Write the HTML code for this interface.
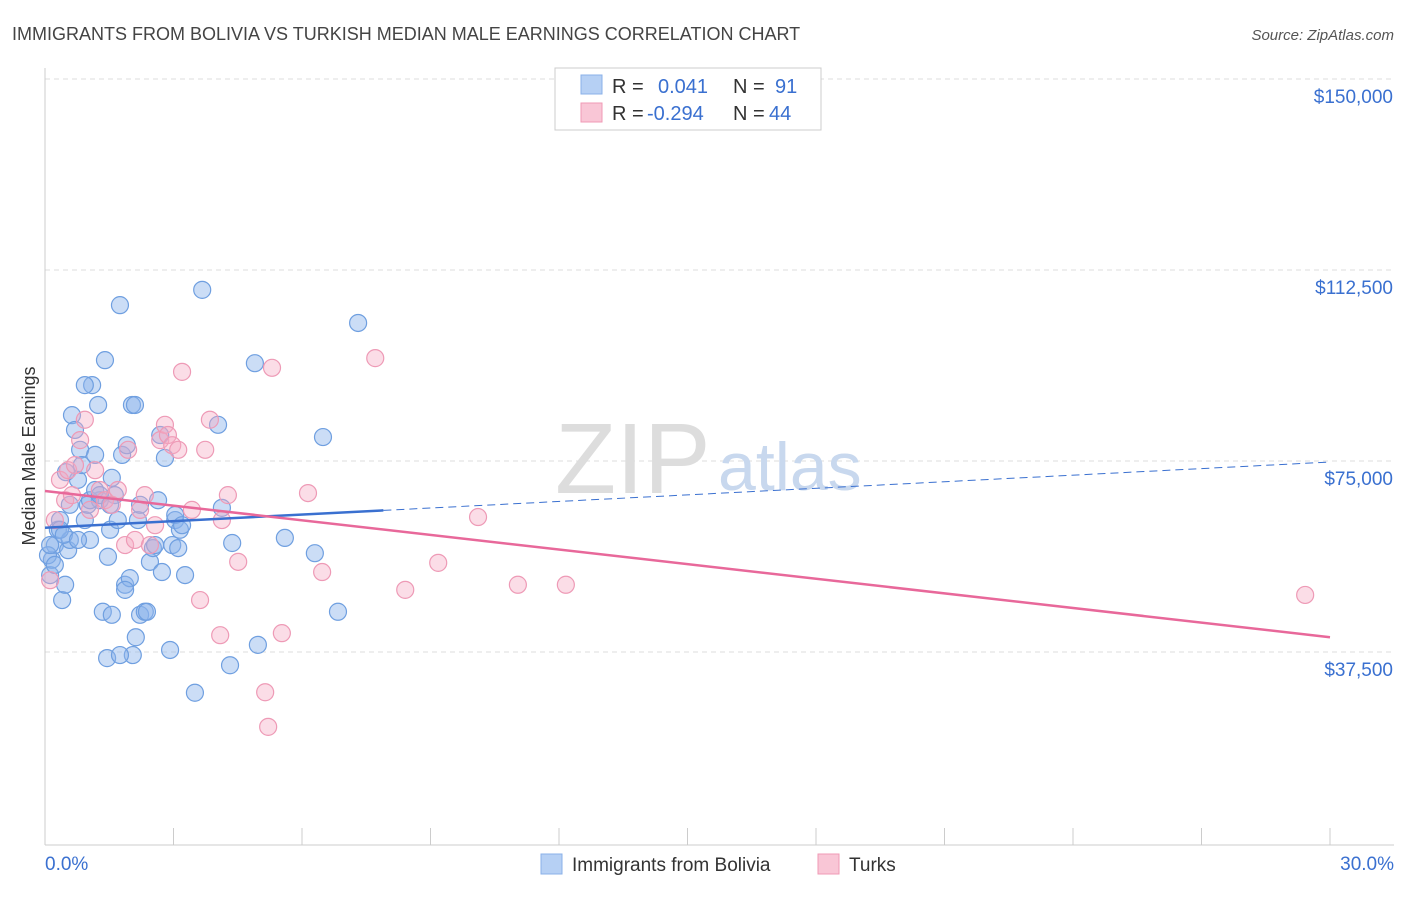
<!DOCTYPE html>
<html><head><meta charset="utf-8"><style>
body{margin:0;background:#fff;font-family:"Liberation Sans",sans-serif;}
svg text{font-family:"Liberation Sans",sans-serif;}
</style></head><body>
<svg id="chart" width="1406" height="892">
<text x="12" y="40" font-size="18" fill="#444">IMMIGRANTS FROM BOLIVIA VS TURKISH MEDIAN MALE EARNINGS CORRELATION CHART</text>
<text x="1394" y="40" font-size="15" fill="#555" font-style="italic" text-anchor="end">Source: ZipAtlas.com</text>
<text x="35" y="456" font-size="18" fill="#333" text-anchor="middle" transform="rotate(-90 35 456)">Median Male Earnings</text>
<g id="grid"></g><g id="axes"></g>
<text x="555" y="493" font-size="100" fill="#ddd" font-family="Liberation Serif">ZIP</text>
<text x="718" y="490" font-size="68" fill="#c8d8ee">atlas</text>
<g id="pts"></g><g id="lines"></g>
<g>
<rect x="555" y="68" width="266" height="62" fill="#fff" stroke="#ccc"/>
<rect x="581" y="75" width="21" height="19" fill="#b6d0f4" stroke="#8ab0e8"/>
<rect x="581" y="103" width="21" height="19" fill="#f9c6d6" stroke="#f09ab5"/>
<text x="612" y="93" font-size="20" fill="#333">R =</text><text x="658" y="93" font-size="20" fill="#3a70d0">0.041</text>
<text x="733" y="93" font-size="20" fill="#333">N =</text><text x="775" y="93" font-size="20" fill="#3a70d0">91</text>
<text x="612" y="120" font-size="20" fill="#333">R =</text><text x="647" y="120" font-size="20" fill="#3a70d0">-0.294</text>
<text x="733" y="120" font-size="20" fill="#333">N =</text><text x="769" y="120" font-size="20" fill="#3a70d0">44</text>
</g>
<g>
<rect x="541" y="854" width="21" height="20" fill="#b6d0f4" stroke="#8ab0e8"/>
<text x="572" y="871" font-size="19" fill="#333">Immigrants from Bolivia</text>
<rect x="818" y="854" width="21" height="20" fill="#f9c6d6" stroke="#f09ab5"/>
<text x="849" y="871" font-size="19" fill="#333">Turks</text>
</g>
</svg>
<script>
const xTickLabels=["0.0%","30.0%"];
const yTicks=[37500,75000,112500,150000];
const yTickLabels=["$37,500","$75,000","$112,500","$150,000"];
const blueX=[0.12,0.16,0.23,0.30,0.35,0.40,0.47,0.54,0.58,0.63,0.70,0.77,0.82,0.86,0.93,1.00,1.05,1.10,1.17,1.24,1.28,1.35,1.40,1.45,1.47,1.52,1.56,1.63,1.70,1.75,1.80,1.87,1.91,1.98,2.03,2.10,2.12,2.17,2.22,2.33,2.38,2.45,2.52,2.57,2.64,2.69,2.73,2.80,2.92,2.97,3.04,3.11,3.15,3.27,3.50,3.67,4.04,4.13,4.32,4.37,4.90,4.97,5.60,6.30,6.49,6.84,7.31,0.07,0.12,0.23,0.35,0.44,0.49,0.58,0.93,1.05,1.17,1.28,1.52,1.87,2.05,2.22,3.04,3.20,1.75,1.56,0.77];
const blueY=[52.6,55.6,58.5,61.5,63.4,47.7,50.7,57.5,59.5,84.0,81.1,71.3,77.2,74.2,63.4,66.4,59.5,89.9,76.2,86.0,67.3,45.4,94.8,36.3,56.2,61.5,71.7,68.3,63.4,105.6,76.2,50.7,78.1,52.0,86.0,86.0,40.4,63.4,44.8,45.4,45.4,55.2,57.9,58.5,67.3,80.1,53.2,75.6,37.9,58.5,63.4,57.9,61.5,52.6,29.5,108.6,82.1,65.8,34.9,58.9,94.2,38.9,59.9,56.9,79.7,45.4,102.1,56.5,58.5,54.6,61.5,60.5,72.8,66.4,89.9,67.3,69.3,68.3,66.4,49.7,36.9,66.4,64.4,62.4,36.9,44.8,59.5];
const pinkX=[0.12,0.23,0.35,0.47,0.54,0.63,0.70,0.82,0.93,1.05,1.17,1.28,1.40,1.56,1.70,1.87,1.94,2.10,2.22,2.33,2.45,2.57,2.69,2.80,2.87,2.97,3.11,3.20,3.43,3.62,3.74,3.85,4.09,4.13,4.27,4.51,5.14,5.21,5.30,5.53,6.14,6.47,7.71,8.41,9.18,10.11,11.04,12.16,29.42];
const pinkY=[51.6,63.4,71.3,67.3,73.2,68.3,74.2,79.1,83.1,65.4,73.2,69.3,67.3,66.4,69.3,58.5,77.2,59.5,65.4,68.3,58.5,62.4,79.1,82.1,80.1,78.1,77.2,92.5,65.4,47.7,77.2,83.1,40.8,63.4,68.3,55.2,29.6,22.8,93.3,41.2,68.7,53.2,95.2,49.7,55.0,64.0,50.7,50.7,48.7];
const blueTrend=[61.9,74.8], blueSolidEnd=7.9;
const pinkTrend=[69.1,40.4];
const NS="http://www.w3.org/2000/svg";
const X=v=>45+v/30*1285, Y=k=>843-k/37.5*191;
function mk(t,a,p){const e=document.createElementNS(NS,t);for(const k in a)e.setAttribute(k,a[k]);p.appendChild(e);return e;}
const grid=document.getElementById('grid'),axes=document.getElementById('axes'),pts=document.getElementById('pts'),lines=document.getElementById('lines');
yTicks.forEach((v,i)=>{
 const l=mk('line',{x1:45,x2:1394,y1:Y(v/1000),y2:Y(v/1000),stroke:'#ddd','stroke-dasharray':'5,4'},grid);
 
 
 const t=mk('text',{x:1393,y:Y(v/1000)+24,'font-size':19,fill:'#3a70d0','text-anchor':'end'},axes);t.textContent=yTickLabels[i];
 
 
});
mk('line',{x1:45,x2:45,y1:68,y2:845,stroke:'#ccc'},axes);
mk('line',{x1:45,x2:1394,y1:845,y2:845,stroke:'#ccc'},axes);
for(let i=0;i<=10;i++){const tk=mk('line',{x1:X(i*3),x2:X(i*3),y1:828,y2:845,stroke:'#ccc'},axes);
 
 }
[[0,'start',45],[1,'end',1394]].forEach(([i,a,x])=>{const t=mk('text',{x:x,y:870,'font-size':19,fill:'#3a70d0','text-anchor':a},axes);t.textContent=xTickLabels[i];
 
 });
blueX.forEach((x,i)=>{const c=mk('circle',{cx:X(x),cy:Y(blueY[i]),r:8.5,fill:'rgba(140,180,235,0.45)',stroke:'#6f9fe0','stroke-width':1.2},pts);
 
 });
pinkX.forEach((x,i)=>{const c=mk('circle',{cx:X(x),cy:Y(pinkY[i]),r:8.5,fill:'rgba(245,170,195,0.4)',stroke:'#ee9ab6','stroke-width':1.2},pts);
 
 });
const bAt=v=>blueTrend[0]+(blueTrend[1]-blueTrend[0])*v/30;
const b1=mk('line',{x1:X(0),y1:Y(bAt(0)),x2:X(blueSolidEnd),y2:Y(bAt(blueSolidEnd)),stroke:'#3a70d0','stroke-width':2.5},lines);


const b2=mk('line',{x1:X(blueSolidEnd),y1:Y(bAt(blueSolidEnd)),x2:X(30),y2:Y(bAt(30)),stroke:'#3a70d0','stroke-width':1,'stroke-dasharray':'8,5'},lines);


const p1=mk('line',{x1:X(0),y1:Y(pinkTrend[0]),x2:X(30),y2:Y(pinkTrend[1]),stroke:'#e8689a','stroke-width':2.5},lines);


</script>
</body></html>
